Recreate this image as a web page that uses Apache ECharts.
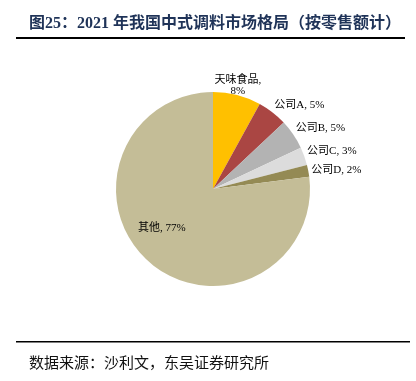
<!DOCTYPE html>
<html>
<head>
<meta charset="utf-8">
<script src="https://cdn.jsdelivr.net/npm/echarts@6/dist/echarts.min.js"></script>
<style>
  html, body { margin: 0; padding: 0; background: #fff; }
  #main { width: 416px; height: 381px; }
</style>
</head>
<body>
<div id="main"></div>
<script>
var names = ['天味食品', '公司A', '公司B', '公司C', '公司D', '其他'];
var shares = [8, 5, 5, 3, 2, 77];
var colors = ['#FFC000', '#AA4643', '#B3B3B3', '#DCDCDC', '#948A54', '#C4BD97'];

var serif = "'Liberation Serif', 'Noto Sans CJK SC', serif";

var chart = echarts.init(document.getElementById('main'));

var pieData = names.map(function (n, i) {
    var item = { name: n, value: shares[i], itemStyle: { color: colors[i] } };
    if (n === '其他') {
        item.label = { position: 'inside' };
    }
    return item;
});

var option = {
    animation: false,
    backgroundColor: '#fff',
    title: [{
        text: '图25：2021 年我国中式调料市场格局（按零售额计）',
        left: 24,
        top: 11,
        textStyle: { fontFamily: serif, fontSize: 16, fontWeight: 'bold', color: '#1F3358' }
    }, {
        text: '数据来源：沙利文，东吴证券研究所',
        left: 24,
        top: 352,
        textStyle: { fontFamily: serif, fontSize: 15, fontWeight: 'normal', color: '#111' }
    }],
    graphic: [
        { type: 'rect', shape: { x: 16, y: 37, width: 389, height: 2 }, style: { fill: '#000' } },
        { type: 'rect', shape: { x: 16, y: 341, width: 394, height: 1.5 }, style: { fill: '#000' } }
    ],
    series: [{
        type: 'pie',
        center: [213, 189],
        radius: [0, 97],
        startAngle: 90,
        clockwise: true,
        avoidLabelOverlap: false,
        label: {
            show: true,
            position: 'outside',
            fontFamily: serif,
            fontSize: 11,
            color: '#000',
            distanceToLabelLine: 0,
            formatter: function (p) {
                return p.dataIndex === 0 ? p.name + ',\n' + p.value + '%' : p.name + ', ' + p.value + '%';
            }
        },
        labelLine: { show: false, length: 3, length2: 0 },
        labelLayout: function (p) {
            if (p.dataIndex === 5) {
                return { dx: -17 };
            }
            if (p.dataIndex === 0) {
                return { align: 'center', verticalAlign: 'bottom', dy: 4 };
            }
            // last small slice sits a little lower, like the original
            return { align: 'left', verticalAlign: 'bottom', dy: p.dataIndex === 4 ? 5 : 1 };
        },
        emphasis: { disabled: true },
        data: pieData
    }]
};

chart.setOption(option);
</script>
</body>
</html>
